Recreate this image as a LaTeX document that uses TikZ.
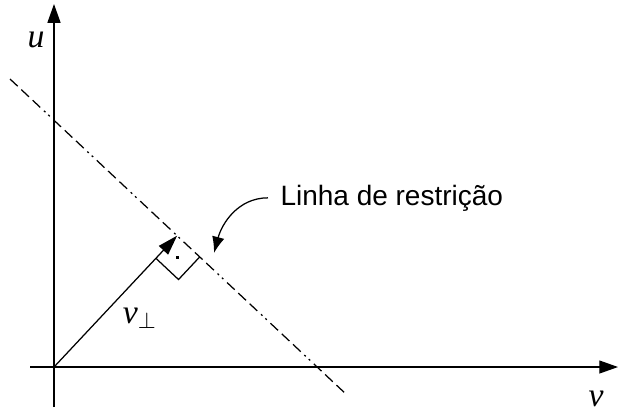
\documentclass[tikz,border=0pt]{standalone}
\usepackage{fontspec}
\setmainfont{Liberation Serif}
\newfontfamily\labelfont{Liberation Sans}
\usetikzlibrary{arrows.meta,calc}

\begin{document}
\begin{tikzpicture}[
      x=0.4pt, y=-0.4pt,
      >={Triangle[length=7.5pt,width=5.2pt]},
      axis/.style={line width=0.5pt, ->},
      vec/.style={line width=0.5pt, -{Triangle[length=8pt,width=5pt]}},
      pointer/.style={line width=0.5pt, -{Latex[length=6.5pt,width=5pt]}},
      boundary/.style={line width=0.5pt, dash pattern=on 4.2pt off 2pt on 4.2pt off 2pt on 4.2pt off 2pt on 0.8pt off 1.6pt on 0.8pt off 2pt},
      axislabel/.style={font=\fontsize{13.5}{16}\selectfont\itshape, inner sep=0pt},
      caption/.style={font=\labelfont\fontsize{11.2}{13}\selectfont, inner sep=0pt, anchor=base west}
    ]
    \useasboundingbox (0,0) rectangle (619,416);

    % axes
    \coordinate (O) at (54,367);
    \coordinate (hstart) at (30,367);
    \coordinate (hend) at (618,367);
    \coordinate (vstart) at (54,407);
    \coordinate (vend) at (54,4);
    \draw[axis] (hstart) -- (hend);
    \draw[axis] (vstart) -- (vend);

    % restriction line and its normal
    \coordinate (A) at (10,79);
    \coordinate (B) at (347,395);
    \coordinate (F) at ($(A)!(O)!(B)$);
    \draw[boundary] (A) -- (B);
    \draw[vec] (O) -- (F);

    % right angle mark
    \coordinate (S1) at ($(F)!12.4pt!(B)$);
    \coordinate (S2) at ($(F)!12.4pt!(O)$);
    \coordinate (S3) at ($(S1)+(S2)-(F)$);
    \draw[line width=0.5pt] (S1) -- (S3) -- (S2);
    \fill ($(S1)!0.5!(S2)$) +(-0.6pt,-0.6pt) rectangle +(0.6pt,0.6pt);

    % labels
    \node[axislabel] (ulabel) at (36,40) {u};
    \node[axislabel] (vlabel) at (596,399) {v};
    \node[axislabel] (vperp) at (140,318) {v$_\perp$};
    \node[caption] (lbl) at (280,205) {Linha de restrição};

    \coordinate (tip) at (214,253);
    \draw[pointer] ([xshift=-4.8pt]lbl.west) to[out=180, in=75] (tip);
  \end{tikzpicture}
\end{document}
